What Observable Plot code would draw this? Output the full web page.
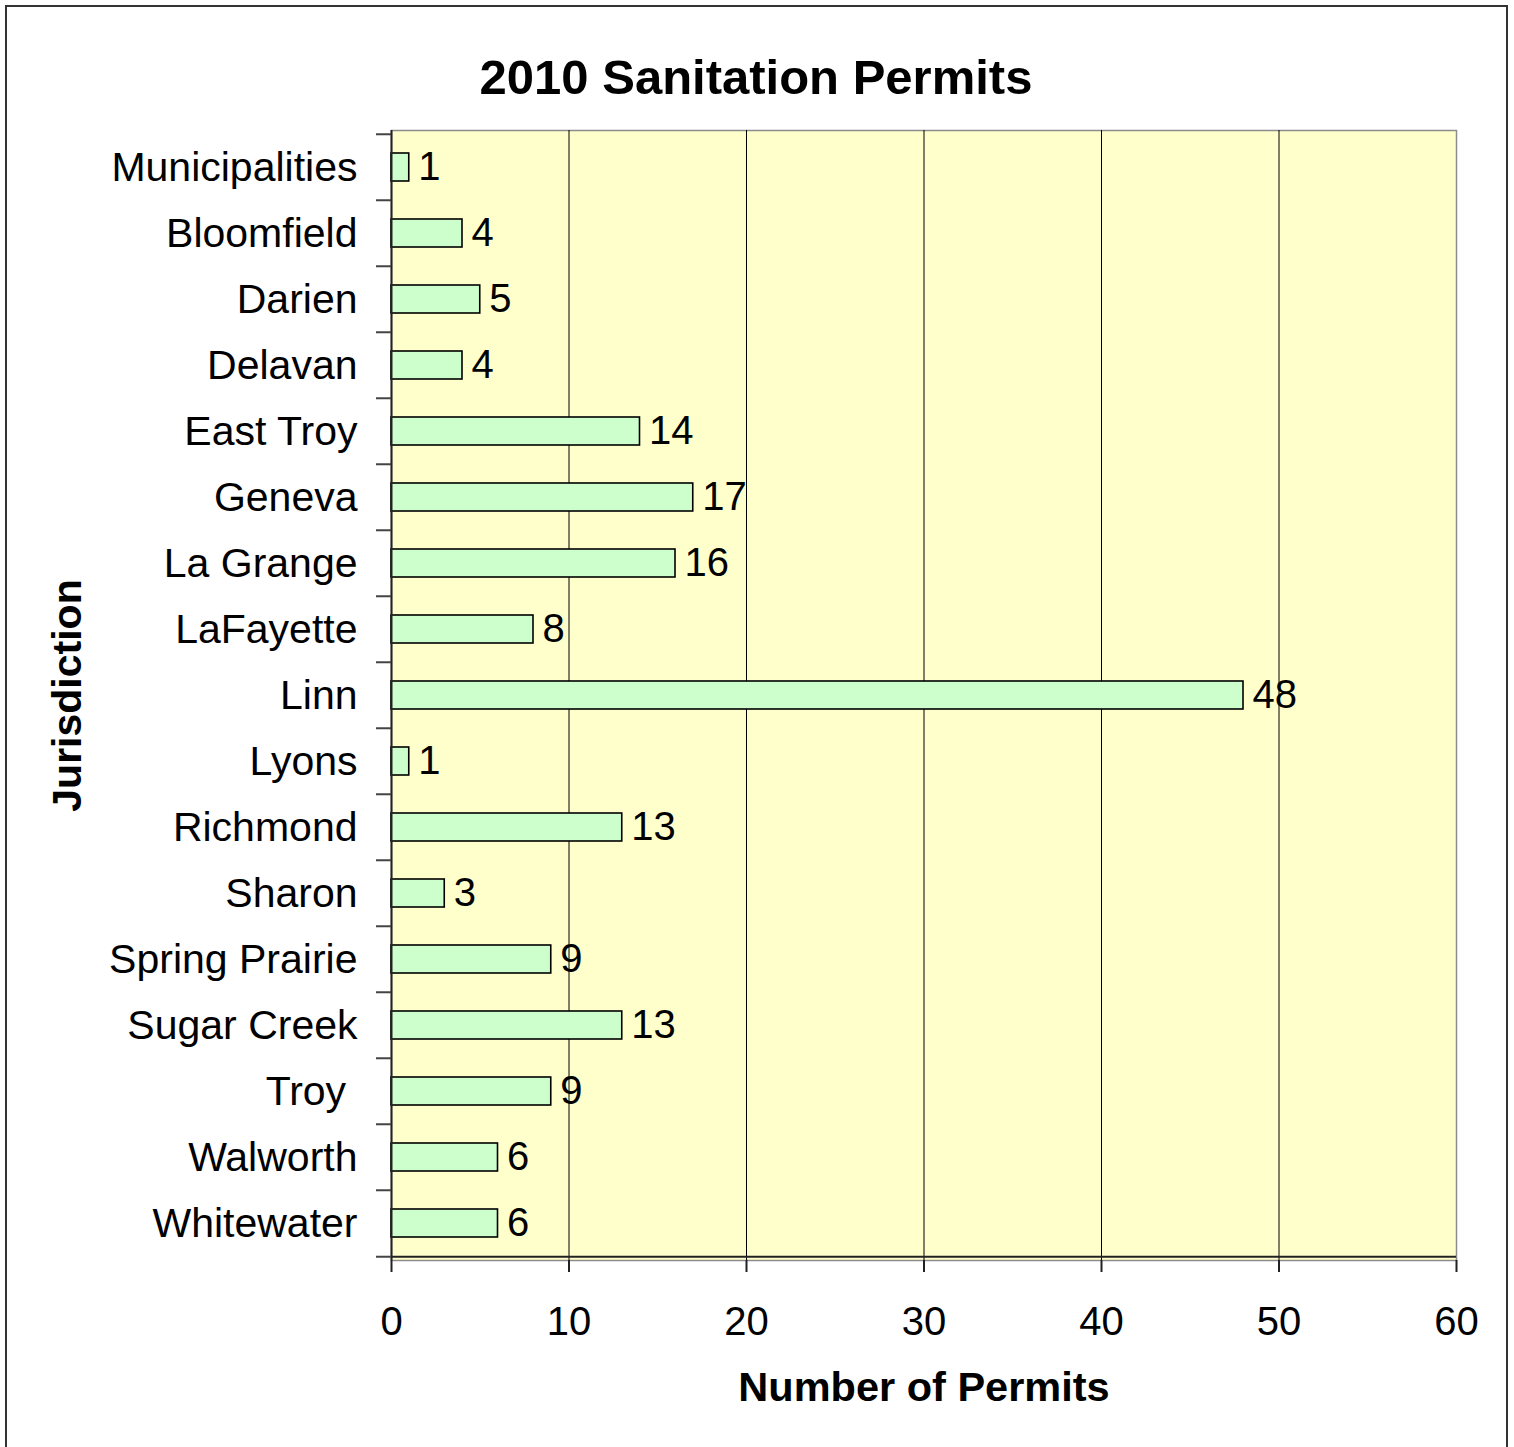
<!DOCTYPE html>
<html>
<head>
<meta charset="utf-8">
<script src="https://cdn.jsdelivr.net/npm/d3@7"></script>
<script src="https://cdn.jsdelivr.net/npm/@observablehq/plot@0.6"></script>
<style>
  html, body { margin: 0; padding: 0; background: #fff; }
  #chart { position: relative; width: 1514px; height: 1447px; overflow: hidden; }
  #chart svg { display: block; font-family: Arial, "Liberation Sans", sans-serif; }
  #border { position: absolute; left: 5px; top: 5px; width: 1499px; height: 1460px; border: 2px solid #333; pointer-events: none; }
</style>
</head>
<body>
<div id="chart"><div id="border"></div></div>
<script>
const categories = ["Municipalities", "Bloomfield", "Darien", "Delavan", "East Troy", "Geneva", "La Grange", "LaFayette", "Linn", "Lyons", "Richmond", "Sharon", "Spring Prairie", "Sugar Creek", "Troy\u00a0", "Walworth", "Whitewater"];
const permits = [1, 4, 5, 4, 14, 17, 16, 8, 48, 1, 13, 3, 9, 13, 9, 6, 6];
const xTicks = [0, 10, 20, 30, 40, 50, 60];
const gridTicks = [10, 20, 30, 40, 50];
const chartTitle = "2010 Sanitation Permits";
const xTitle = "Number of Permits";
const yTitle = "Jurisdiction";

const data = categories.map((c, i) => ({name: c, value: permits[i]}));

const W = 1514, H = 1447;
const mL = 391, mR = 58, mT = 130, mB = 187;
const step = (H - mT - mB) / categories.length;

const chart = Plot.plot({
  width: W,
  height: H,
  marginLeft: mL,
  marginRight: mR,
  marginTop: mT,
  marginBottom: mB,
  style: {fontFamily: "Arial, 'Liberation Sans', sans-serif", background: "transparent", color: "#000"},
  x: {domain: [0, 60], ticks: xTicks},
  y: {domain: categories, paddingInner: 0.58, paddingOuter: 0.29},
  marks: [
    Plot.frame({fill: "#FFFFCC", stroke: "#8c8c8c", strokeWidth: 1.5}),
    Plot.ruleX(gridTicks, {stroke: "#000", strokeWidth: 1}),
    Plot.barX(data, {y: "name", x: "value", fill: "#CCFFCC", stroke: "#000", strokeWidth: 1.6}),
    Plot.text(data, {y: "name", x: "value", text: d => String(d.value), textAnchor: "start", dx: 9, fontSize: 40, fill: "#000"}),
    // left axis line and bottom axis line
    Plot.ruleX([0], {stroke: "#222", strokeWidth: 2}),
    Plot.ruleY([0], {y: () => categories.at(-1), dy: step / 2, x1: 0, x2: 60, stroke: "#222", strokeWidth: 2}),
    // y tick marks at category boundaries
    Plot.axisY({tickSize: 15, dy: -step / 2, tickFormat: () => "", stroke: "#444", strokeWidth: 2, label: null}),
    Plot.axisY([categories.at(-1)], {tickSize: 15, dy: step / 2, tickFormat: () => "", stroke: "#444", strokeWidth: 2, label: null}),
    // y labels
    Plot.axisY({tickSize: 0, tickPadding: 34, fontSize: 41, fill: "#000", label: null}),
    // x axis
    Plot.axisX({ticks: xTicks, tickSize: 12, tickPadding: 34, fontSize: 40, fill: "#000", stroke: "#222", strokeWidth: 2, label: null}),
    // titles
    Plot.text([chartTitle], {frameAnchor: "top", dx: -168, dy: -71, fontSize: 49, fontWeight: "bold", fill: "#000"}),
    Plot.text([xTitle], {frameAnchor: "bottom", dy: 140, fontSize: 41.5, fontWeight: "bold", fill: "#000"}),
    Plot.text([yTitle], {frameAnchor: "left", textAnchor: "middle", dx: -324, rotate: -90, fontSize: 41, fontWeight: "bold", fill: "#000"})
  ]
});

document.getElementById("chart").prepend(chart);
</script>
</body>
</html>
